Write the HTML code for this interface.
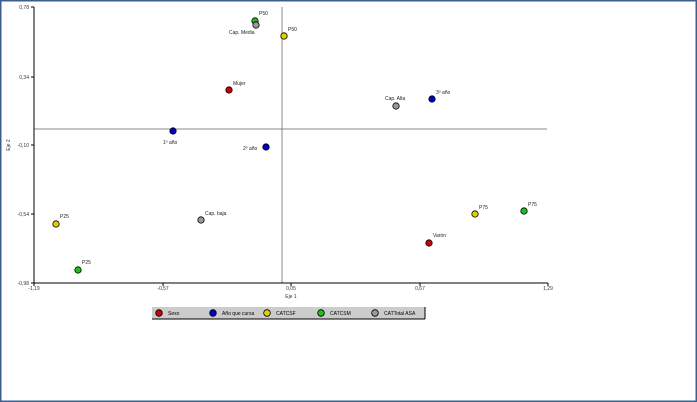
<!DOCTYPE html><html><head><style>body{margin:0;background:#fff}svg{display:block}text{font-family:"Liberation Sans",sans-serif}</style></head><body>
<svg width="697" height="402" xmlns="http://www.w3.org/2000/svg">
<rect x="0.5" y="0.5" width="696" height="401" fill="#fff" stroke="#3a5f8f" stroke-width="2"/>
<line x1="282" y1="7" x2="282" y2="283" stroke="#888" stroke-width="1"/>
<line x1="34" y1="129" x2="547" y2="129" stroke="#888" stroke-width="1"/>
<line x1="34" y1="7" x2="34" y2="283" stroke="#000" stroke-width="1"/>
<line x1="34" y1="283" x2="548" y2="283" stroke="#000" stroke-width="1"/>
<g stroke="#000"><line x1="31" y1="7" x2="34" y2="7"/><line x1="31" y1="77" x2="34" y2="77"/><line x1="31" y1="145" x2="34" y2="145"/><line x1="31" y1="214" x2="34" y2="214"/><line x1="31" y1="283" x2="34" y2="283"/>
<line x1="34" y1="283" x2="34" y2="286"/><line x1="163" y1="283" x2="163" y2="286"/><line x1="291" y1="283" x2="291" y2="286"/><line x1="420" y1="283" x2="420" y2="286"/><line x1="548" y1="283" x2="548" y2="286"/></g>
<g font-size="5" fill="#333" text-anchor="end"><text x="29" y="9">0,78</text><text x="29" y="79">0,34</text><text x="29" y="147">-0,10</text><text x="29" y="216">-0,54</text><text x="29" y="285">-0,98</text></g>
<g font-size="5" fill="#333" text-anchor="middle"><text x="34" y="290">-1,19</text><text x="163" y="290">-0,57</text><text x="291" y="290">0,05</text><text x="420" y="290">0,67</text><text x="548" y="290">1,29</text>
<text x="291" y="298">Eje 1</text></g>
<text x="10" y="145" font-size="5" fill="#333" text-anchor="middle" transform="rotate(-90 10 145)">Eje 2</text>
<g stroke="#000" stroke-width="0.8">
<circle cx="255" cy="21" r="3.2" fill="#1ec01e"/><circle cx="256" cy="25" r="3.2" fill="#999"/>
<circle cx="284" cy="36" r="3.2" fill="#e0d000"/><circle cx="229" cy="90" r="3.2" fill="#d00000"/>
<circle cx="173" cy="131" r="3.2" fill="#0000d0"/><circle cx="266" cy="147" r="3.2" fill="#0000d0"/>
<circle cx="396" cy="106" r="3.2" fill="#999"/><circle cx="432" cy="99" r="3.2" fill="#0000d0"/>
<circle cx="475" cy="214" r="3.2" fill="#e0d000"/><circle cx="524" cy="211" r="3.2" fill="#1ec01e"/>
<circle cx="429" cy="243" r="3.2" fill="#d00000"/><circle cx="201" cy="220" r="3.2" fill="#999"/>
<circle cx="56" cy="224" r="3.2" fill="#e0d000"/><circle cx="78" cy="270" r="3.2" fill="#1ec01e"/>
</g>
<g font-size="5" fill="#222"><text x="259" y="15">P50</text><text x="229" y="34">Cap. Media</text><text x="288" y="31">P50</text><text x="233" y="85">Mujer</text>
<text x="163" y="144">1º año</text><text x="243" y="150">2º año</text><text x="385" y="100">Cap. Alta</text><text x="436" y="94">3º año</text>
<text x="479" y="209">P75</text><text x="528" y="206">P75</text><text x="433" y="237">Varón</text><text x="205" y="215">Cap. baja</text>
<text x="60" y="218">P25</text><text x="82" y="264">P25</text></g>
<rect x="152" y="307" width="273" height="12" fill="#ccc"/>
<line x1="425" y1="307" x2="425" y2="319" stroke="#000"/><line x1="152" y1="319" x2="425" y2="319" stroke="#000"/>
<g stroke="#000" stroke-width="0.8"><circle cx="159" cy="313" r="3.3" fill="#d00000"/><circle cx="213" cy="313" r="3.3" fill="#0000d0"/><circle cx="267" cy="313" r="3.3" fill="#e0d000"/><circle cx="321" cy="313" r="3.3" fill="#1ec01e"/><circle cx="375" cy="313" r="3.3" fill="#999"/></g>
<g font-size="5" fill="#000"><text x="168" y="315">Sexo</text><text x="222" y="315">Año que cursa</text><text x="276" y="315">CATCSF</text><text x="330" y="315">CATCSM</text><text x="384" y="315">CATTotal ASA</text></g>
</svg></body></html>
